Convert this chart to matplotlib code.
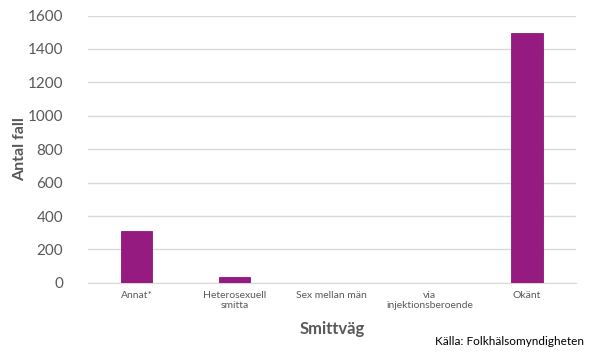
import matplotlib
matplotlib.use("Agg")
import matplotlib.pyplot as plt

categories = ["Annat*", "Heterosexuell\nsmitta", "Sex mellan män", "via\ninjektionsberoende", "Okänt"]
values = [310, 34, 0, 0, 1494]
yticks = [0, 200, 400, 600, 800, 1000, 1200, 1400, 1600]

plt.rcParams['font.family'] = ['Lato', 'DejaVu Sans']

fig = plt.figure(figsize=(5.9, 3.54), dpi=100)
ax = fig.add_axes([0.149, 0.201, 0.827, 0.755])
x = range(len(categories))
ax.bar(x, values, width=0.32, color="#951B81", edgecolor="#8A1877", linewidth=0.6, zorder=3)
ax.set_xlim(-0.5, len(categories) - 0.5)
ax.set_ylim(0, 1600)
ax.set_yticks(yticks)
ax.set_yticklabels([str(v) for v in yticks], fontsize=11, color="#595959")
ax.set_xticks(list(x))
ax.set_xticklabels(categories, fontsize=7.5, color="#595959", linespacing=1.1)
ax.tick_params(axis="both", length=0)
ax.tick_params(axis="y", pad=18)
ax.tick_params(axis="x", pad=6)
ax.grid(axis="y", color="#D9D9D9", linewidth=1, zorder=0)
for s in ["top", "right", "left"]:
    ax.spines[s].set_visible(False)
ax.spines["bottom"].set_color("#D9D9D9")
ax.set_ylabel("Antal fall", fontsize=11.5, fontweight="bold", color="#595959")
ax.yaxis.set_label_coords(-0.125, 0.5)
ax.set_xlabel("Smittväg", fontsize=12, fontweight="bold", color="#595959", labelpad=8)
fig.text(0.99, 0.035, "Källa: Folkhälsomyndigheten", ha="right", va="center", fontsize=8.5, color="#000000")
fig.savefig("out.png", dpi=100)
